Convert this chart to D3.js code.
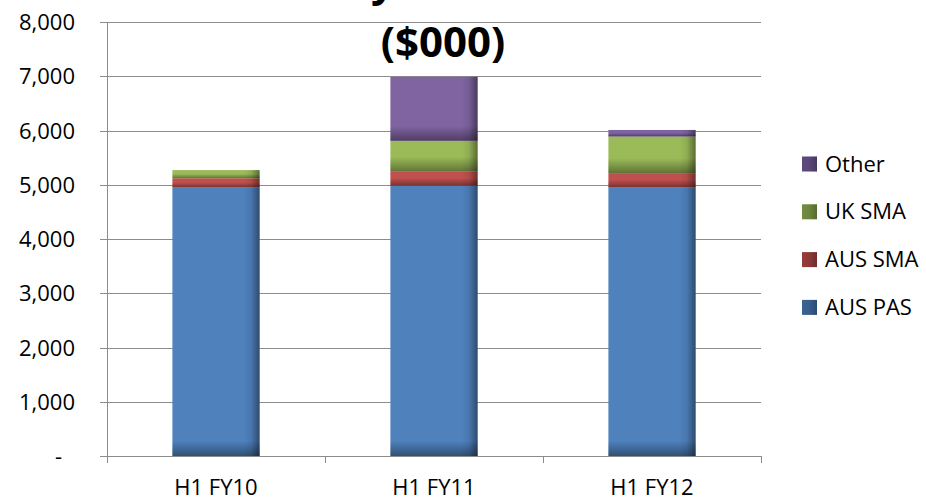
<!DOCTYPE html>
<html>
<head>
<meta charset="utf-8">
<script src="https://cdn.jsdelivr.net/npm/d3@7"></script>
<style>
  html, body { margin: 0; padding: 0; background: #fff; }
  svg { display: block; font-family: "Open Sans", "DejaVu Sans", sans-serif; }
</style>
</head>
<body>
<svg id="chart" width="926" height="502"></svg>
<script>
// Half-year revenue by business line ($000)
const categories = ["H1 FY10", "H1 FY11", "H1 FY12"];
const seriesNames = ["AUS PAS", "AUS SMA", "UK SMA", "Other"];
const ausPas = [4950, 4980, 4950];
const ausSma = [170, 260, 265];
const ukSma  = [150, 570, 675];
const other  = [0, 1180, 120];
const yTicks = [0, 1000, 2000, 3000, 4000, 5000, 6000, 7000, 8000];
const titleLines = ["y", "($000)"];

const colors = {
  "AUS PAS": "#4F81BD",
  "AUS SMA": "#C0504D",
  "UK SMA":  "#9BBB59",
  "Other":   "#8064A2"
};
const legendColors = {
  "AUS PAS": "#3A6396",
  "AUS SMA": "#963C3A",
  "UK SMA":  "#718E3F",
  "Other":   "#5F4A80"
};

const rows = categories.map((c, i) => ({
  category: c,
  "AUS PAS": ausPas[i],
  "AUS SMA": ausSma[i],
  "UK SMA": ukSma[i],
  "Other": other[i]
}));

const svg = d3.select("#chart");
const plot = { left: 107, right: 761, top: 22, bottom: 456 };

const x = d3.scaleBand()
  .domain(categories)
  .range([plot.left, plot.right])
  .paddingInner(0.6)
  .paddingOuter(0.3);

const y = d3.scaleLinear()
  .domain([0, 8000])
  .range([plot.bottom, plot.top]);

const gridColor = "#8C8C8C";

// shading gradients for the bevelled bar look
const defs = svg.append("defs");
const gR = defs.append("linearGradient").attr("id", "shadeRight")
  .attr("x1", 0).attr("x2", 1).attr("y1", 0).attr("y2", 0);
gR.append("stop").attr("offset", 0).attr("stop-color", "#000").attr("stop-opacity", 0);
gR.append("stop").attr("offset", 0.45).attr("stop-color", "#000").attr("stop-opacity", 0.08);
gR.append("stop").attr("offset", 1).attr("stop-color", "#000").attr("stop-opacity", 0.42);
const gB = defs.append("linearGradient").attr("id", "shadeBottom")
  .attr("x1", 0).attr("x2", 0).attr("y1", 0).attr("y2", 1);
gB.append("stop").attr("offset", 0).attr("stop-color", "#000").attr("stop-opacity", 0);
gB.append("stop").attr("offset", 1).attr("stop-color", "#000").attr("stop-opacity", 0.38);

// horizontal gridlines
svg.append("g").selectAll("line")
  .data(yTicks.filter(t => t > 0))
  .join("line")
  .attr("x1", plot.left).attr("x2", plot.right)
  .attr("y1", d => Math.round(y(d)) + 0.5).attr("y2", d => Math.round(y(d)) + 0.5)
  .attr("stroke", gridColor).attr("stroke-width", 1);

// stacked bars
const stack = d3.stack().keys(seriesNames);
const layers = stack(rows);

const barG = svg.append("g");
layers.forEach(layer => {
  const key = layer.key;
  layer.forEach((seg, i) => {
    const x0 = x(categories[i]);
    const w = x.bandwidth();
    const yTop = y(seg[1]);
    const yBot = y(seg[0]);
    const h = yBot - yTop;
    if (h <= 0.5) return;
    barG.append("rect")
      .attr("x", x0).attr("y", yTop).attr("width", w).attr("height", h)
      .attr("fill", colors[key]);
    const sw = Math.min(16, w * 0.18);
    barG.append("rect")
      .attr("x", x0 + w - sw).attr("y", yTop).attr("width", sw).attr("height", h)
      .attr("fill", "url(#shadeRight)");
    const sh = Math.min(15, h * 0.55);
    barG.append("rect")
      .attr("x", x0).attr("y", yBot - sh).attr("width", w).attr("height", sh)
      .attr("fill", "url(#shadeBottom)");
  });
});

// y axis line and ticks
svg.append("line")
  .attr("x1", plot.left + 0.5).attr("x2", plot.left + 0.5)
  .attr("y1", plot.top).attr("y2", plot.bottom + 7)
  .attr("stroke", gridColor);
svg.append("g").selectAll("line")
  .data(yTicks)
  .join("line")
  .attr("x1", plot.left - 7).attr("x2", plot.left)
  .attr("y1", d => Math.round(y(d)) + 0.5).attr("y2", d => Math.round(y(d)) + 0.5)
  .attr("stroke", gridColor);

// y tick labels
const fmt = d3.format(",");
svg.append("g").selectAll("text")
  .data(yTicks)
  .join("text")
  .attr("x", 75)
  .attr("dx", d => d === 0 ? -13 : 0)
  .attr("y", d => y(d) + 8)
  .attr("text-anchor", "end")
  .attr("font-size", 22)
  .attr("fill", "#000")
  .text(d => d === 0 ? "-" : fmt(d));

// x axis line and category ticks
svg.append("line")
  .attr("x1", plot.left).attr("x2", plot.right + 0.5)
  .attr("y1", plot.bottom + 0.5).attr("y2", plot.bottom + 0.5)
  .attr("stroke", gridColor);
const step = x.step();
const boundaries = d3.range(categories.length + 1).map(i => plot.left + i * step);
svg.append("g").selectAll("line")
  .data(boundaries)
  .join("line")
  .attr("x1", d => Math.round(d) + 0.5).attr("x2", d => Math.round(d) + 0.5)
  .attr("y1", plot.bottom).attr("y2", plot.bottom + 7)
  .attr("stroke", gridColor);

// category labels
svg.append("g").selectAll("text")
  .data(categories)
  .join("text")
  .attr("x", d => x(d) + x.bandwidth() / 2)
  .attr("y", 495)
  .attr("text-anchor", "middle")
  .attr("font-size", 22)
  .attr("fill", "#000")
  .text(d => d);

// title
svg.append("text")
  .attr("x", 383).attr("y", -4)
  .attr("text-anchor", "middle")
  .attr("font-size", 42).attr("font-weight", "bold")
  .attr("fill", "#000")
  .text(titleLines[0]);
svg.append("text")
  .attr("x", 443).attr("y", 57)
  .attr("text-anchor", "middle")
  .attr("font-size", 42).attr("font-weight", "bold")
  .attr("fill", "#000")
  .text(titleLines[1]);

// legend (top entry is the last stacked series)
const legendOrder = seriesNames.slice().reverse();
const legend = svg.append("g");
legendOrder.forEach((name, i) => {
  const base = 171.5 + i * 47.8;
  legend.append("rect")
    .attr("x", 802).attr("y", base - 15).attr("width", 15).attr("height", 15)
    .attr("fill", legendColors[name]);
  legend.append("rect")
    .attr("x", 802).attr("y", base - 15).attr("width", 15).attr("height", 15)
    .attr("fill", "url(#shadeRight)").attr("opacity", 0.6);
  legend.append("text")
    .attr("x", 825).attr("y", base)
    .attr("font-size", 22)
    .attr("fill", "#000")
    .text(name);
});
</script>
</body>
</html>
